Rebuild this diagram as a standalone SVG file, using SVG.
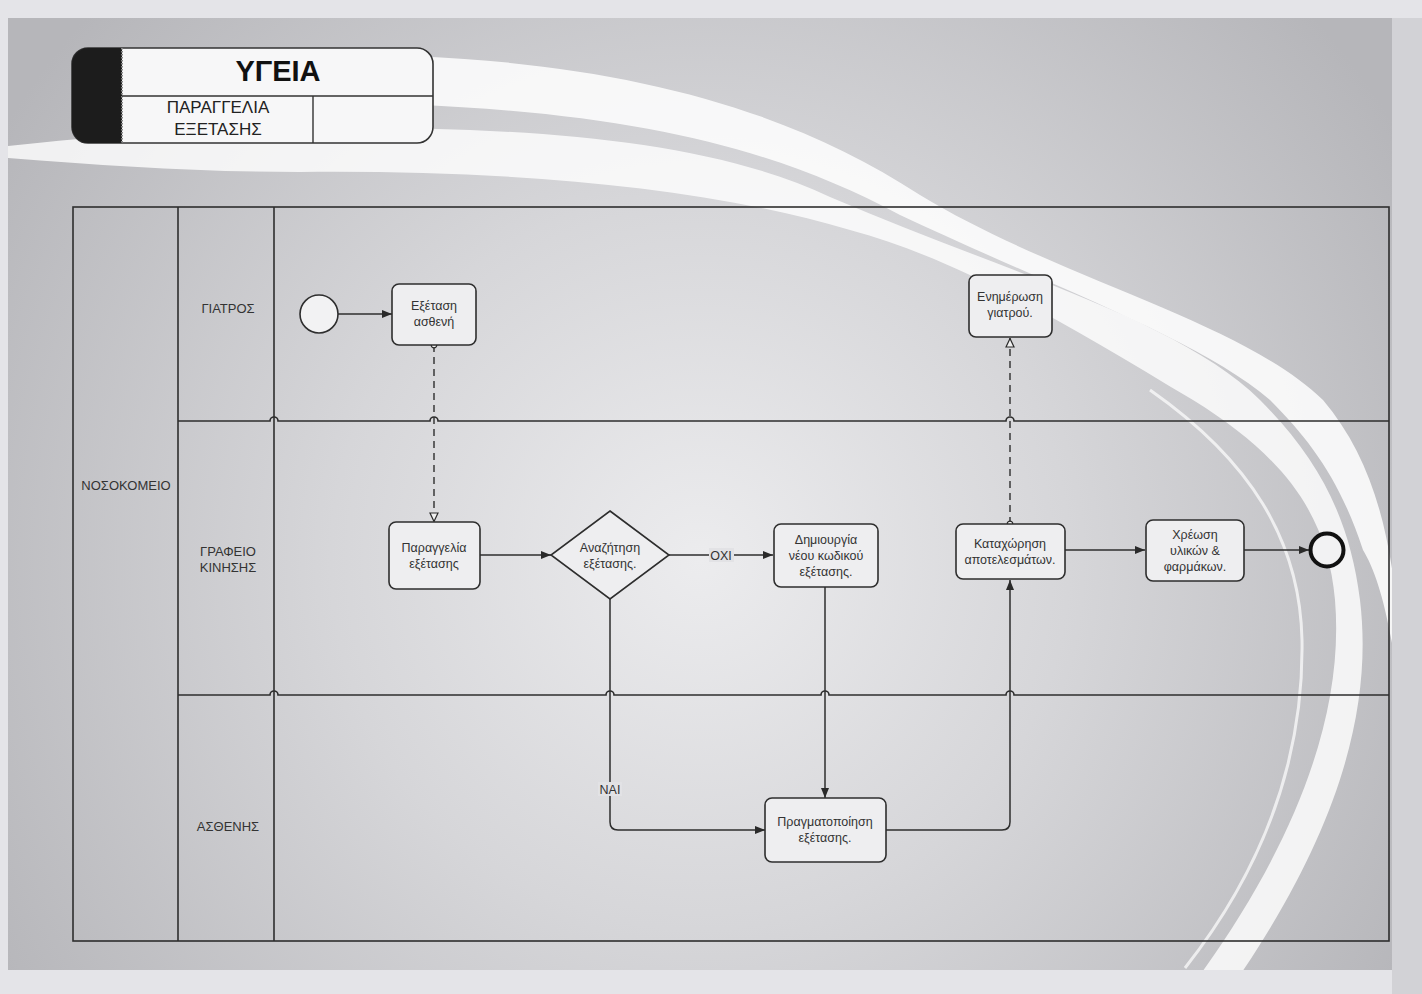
<svg xmlns="http://www.w3.org/2000/svg" width="1422" height="994" viewBox="0 0 1422 994">
  <defs>
    <radialGradient id="bgGrad" cx="700" cy="560" r="820" gradientUnits="userSpaceOnUse">
      <stop offset="0" stop-color="#ececee"/>
      <stop offset="0.45" stop-color="#d6d6d9"/>
      <stop offset="1" stop-color="#b6b6ba"/>
    </radialGradient>
    <marker id="arrowFilled" viewBox="0 0 10 10" refX="10" refY="5" markerWidth="10" markerHeight="10" markerUnits="userSpaceOnUse" orient="auto">
      <path d="M0,1 L10,5 L0,9 Z" fill="#2a2a2a"/>
    </marker>
    <marker id="arrowOpen" viewBox="0 0 10 10" refX="10" refY="5" markerWidth="10" markerHeight="10" markerUnits="userSpaceOnUse" orient="auto">
      <path d="M1,1 L9.5,5 L1,9 Z" fill="#f0f0f0" stroke="#2a2a2a" stroke-width="1.2"/>
    </marker>
    <marker id="dotStart" viewBox="0 0 8 8" refX="4" refY="4" markerWidth="8" markerHeight="8" markerUnits="userSpaceOnUse" orient="auto">
      <circle cx="4" cy="4" r="2.8" fill="#f0f0f0" stroke="#2a2a2a" stroke-width="1.2"/>
    </marker>
    <clipPath id="innerClip">
      <rect x="8" y="18" width="1384" height="952"/>
    </clipPath>
    <style>
      .lane { fill: none; stroke: #2e2e2e; stroke-width: 1.6; }
      .task { fill: #eeeef0; stroke: #2e2e2e; stroke-width: 1.6; }
      .lbl { font-family: "Liberation Sans", Arial, sans-serif; font-size: 12.5px; fill: #333; text-anchor: middle; }
      .laneLbl { font-family: "Liberation Sans", Arial, sans-serif; font-size: 13px; fill: #333; text-anchor: middle; }
      .flow { fill: none; stroke: #2e2e2e; stroke-width: 1.5; marker-end: url(#arrowFilled); }
      .msg { fill: none; stroke: #2e2e2e; stroke-width: 1.4; stroke-dasharray: 7 5; marker-start: url(#dotStart); marker-end: url(#arrowOpen); }
      .band { fill: #ffffff; }
    </style>
  </defs>

  <!-- page background -->
  <rect x="0" y="0" width="1422" height="994" fill="#e4e4e8"/>
  <rect x="1392" y="18" width="30" height="976" fill="#d2d2d6"/>
  <rect x="8" y="18" width="1384" height="952" fill="url(#bgGrad)"/>

  <!-- decorative white swooshes -->
  <g clip-path="url(#innerClip)">
    <!-- outer band -->
    <path class="band" opacity="0.85" d="M300,54 C560,52 760,90 920,195 C1060,280 1240,320 1323,400 C1365,450 1385,510 1395,590 L1395,660 C1385,600 1375,570 1363,550 C1340,480 1310,440 1270,400 C1200,340 1060,290 900,215 C760,140 600,104 300,102 Z"/>
    <!-- inner band, tapering off towards the left edge -->
    <path class="band" opacity="0.8" d="M8,146 C120,134 220,128 300,128 C500,126 700,135 830,197 C1000,270 1180,320 1260,400 C1320,460 1350,520 1360,600 C1372,700 1345,820 1240,975 L1200,975 C1290,850 1345,720 1335,600 C1328,520 1290,460 1193,400 C1060,320 960,260 850,230 C700,185 500,170 300,172 C200,172 110,166 8,158 Z"/>
    <!-- thin accent line -->
    <path d="M1150,390 C1250,460 1300,540 1302,640 C1304,760 1262,870 1185,968" fill="none" stroke="#ffffff" stroke-width="3" opacity="0.7"/>
  </g>

  <!-- title block -->
  <g id="title">
    <rect x="72" y="48" width="361" height="95" rx="16" fill="#f7f7f8" stroke="#333" stroke-width="1.6"/>
    <path d="M88,48 H122 V143 H88 A16,16 0 0 1 72,127 V64 A16,16 0 0 1 88,48 Z" fill="#1c1c1c"/>
    <line x1="122" y1="48" x2="122" y2="143" stroke="#888" stroke-width="2" stroke-dasharray="1.5 1.5"/>
    <line x1="122" y1="96" x2="433" y2="96" stroke="#333" stroke-width="1.4"/>
    <line x1="313" y1="96" x2="313" y2="143" stroke="#333" stroke-width="1.4"/>
    <text x="278" y="81" font-family="Liberation Sans, Arial, sans-serif" font-size="29" font-weight="bold" fill="#111" text-anchor="middle">ΥΓΕΙΑ</text>
    <text x="218" y="113" font-family="Liberation Sans, Arial, sans-serif" font-size="17" fill="#222" text-anchor="middle">ΠΑΡΑΓΓΕΛΙΑ</text>
    <text x="218" y="135" font-family="Liberation Sans, Arial, sans-serif" font-size="17" fill="#222" text-anchor="middle">ΕΞΕΤΑΣΗΣ</text>
  </g>

  <!-- pool and lanes -->
  <g id="pool">
    <rect class="lane" x="73" y="207" width="1316" height="734"/>
    <line class="lane" x1="178" y1="207" x2="178" y2="941"/>
    <line class="lane" x1="274" y1="207" x2="274" y2="941"/>
    <path class="lane" d="M178,421 H270 a4,4 0 0 1 8,0 H430 a4,4 0 0 1 8,0 H1006 a4,4 0 0 1 8,0 H1389"/>
    <path class="lane" d="M178,695 H270 a4,4 0 0 1 8,0 H606 a4,4 0 0 1 8,0 H821 a4,4 0 0 1 8,0 H1006 a4,4 0 0 1 8,0 H1389"/>
    <text class="laneLbl" x="126" y="490">ΝΟΣΟΚΟΜΕΙΟ</text>
    <text class="laneLbl" x="228" y="313">ΓΙΑΤΡΟΣ</text>
    <text class="laneLbl" x="228" y="556">ΓΡΑΦΕΙΟ</text>
    <text class="laneLbl" x="228" y="572">ΚΙΝΗΣΗΣ</text>
    <text class="laneLbl" x="228" y="831">ΑΣΘΕΝΗΣ</text>
  </g>

  <!-- connectors -->
  <g id="connectors">
    <path class="flow" d="M338,314 H392"/>
    <path class="msg" d="M434,345 V522"/>
    <path class="flow" d="M480,555 H551"/>
    <path class="flow" d="M669,555 H773"/>
    <path class="flow" d="M825,587 V798"/>
    <path class="flow" d="M610,599 V822 Q610,830 618,830 H765"/>
    <path class="flow" d="M886,830 H1002 Q1010,830 1010,822 V580"/>
    <path class="msg" d="M1010,524 V338"/>
    <path class="flow" d="M1065,550 H1145"/>
    <path class="flow" d="M1244,550 H1309"/>
    <rect x="709" y="548" width="25" height="14" fill="#e2e2e5"/>
    <text class="lbl" x="721" y="560">ΟΧΙ</text>
    <rect x="598" y="782" width="24" height="14" fill="#e2e2e5"/>
    <text class="lbl" x="610" y="794">ΝΑΙ</text>
  </g>

  <!-- nodes -->
  <g id="start">
    <circle cx="319" cy="314" r="19" fill="#f2f2f3" stroke="#2e2e2e" stroke-width="1.6"/>
  </g>
  <g id="exetasi-astheni">
    <rect class="task" x="392" y="284" width="84" height="61" rx="7"/>
    <text class="lbl" x="434" y="310">Εξέταση</text>
    <text class="lbl" x="434" y="326">ασθενή</text>
  </g>
  <g id="paraggelia">
    <rect class="task" x="389" y="522" width="91" height="67" rx="7"/>
    <text class="lbl" x="434" y="552">Παραγγελία</text>
    <text class="lbl" x="434" y="568">εξέτασης</text>
  </g>
  <g id="anazitisi">
    <path class="task" d="M610,511 L669,555 L610,599 L551,555 Z"/>
    <text class="lbl" x="610" y="552">Αναζήτηση</text>
    <text class="lbl" x="610" y="568">εξέτασης.</text>
  </g>
  <g id="dimiourgia">
    <rect class="task" x="774" y="524" width="104" height="63" rx="7"/>
    <text class="lbl" x="826" y="544">Δημιουργία</text>
    <text class="lbl" x="826" y="560">νέου κωδικού</text>
    <text class="lbl" x="826" y="576">εξέτασης.</text>
  </g>
  <g id="pragmatopoiisi">
    <rect class="task" x="765" y="798" width="121" height="64" rx="7"/>
    <text class="lbl" x="825" y="826">Πραγματοποίηση</text>
    <text class="lbl" x="825" y="842">εξέτασης.</text>
  </g>
  <g id="kataxorisi">
    <rect class="task" x="956" y="524" width="109" height="55" rx="7"/>
    <text class="lbl" x="1010" y="548">Καταχώρηση</text>
    <text class="lbl" x="1010" y="564">αποτελεσμάτων.</text>
  </g>
  <g id="enimerosi">
    <rect class="task" x="969" y="275" width="83" height="62" rx="7"/>
    <text class="lbl" x="1010" y="301">Ενημέρωση</text>
    <text class="lbl" x="1010" y="317">γιατρού.</text>
  </g>
  <g id="xreosi">
    <rect class="task" x="1146" y="520" width="98" height="61" rx="7"/>
    <text class="lbl" x="1195" y="539">Χρέωση</text>
    <text class="lbl" x="1195" y="555">υλικών &amp;</text>
    <text class="lbl" x="1195" y="571">φαρμάκων.</text>
  </g>
  <g id="end">
    <circle cx="1327" cy="550" r="16.5" fill="#f2f2f3" stroke="#111" stroke-width="4"/>
  </g>
</svg>
